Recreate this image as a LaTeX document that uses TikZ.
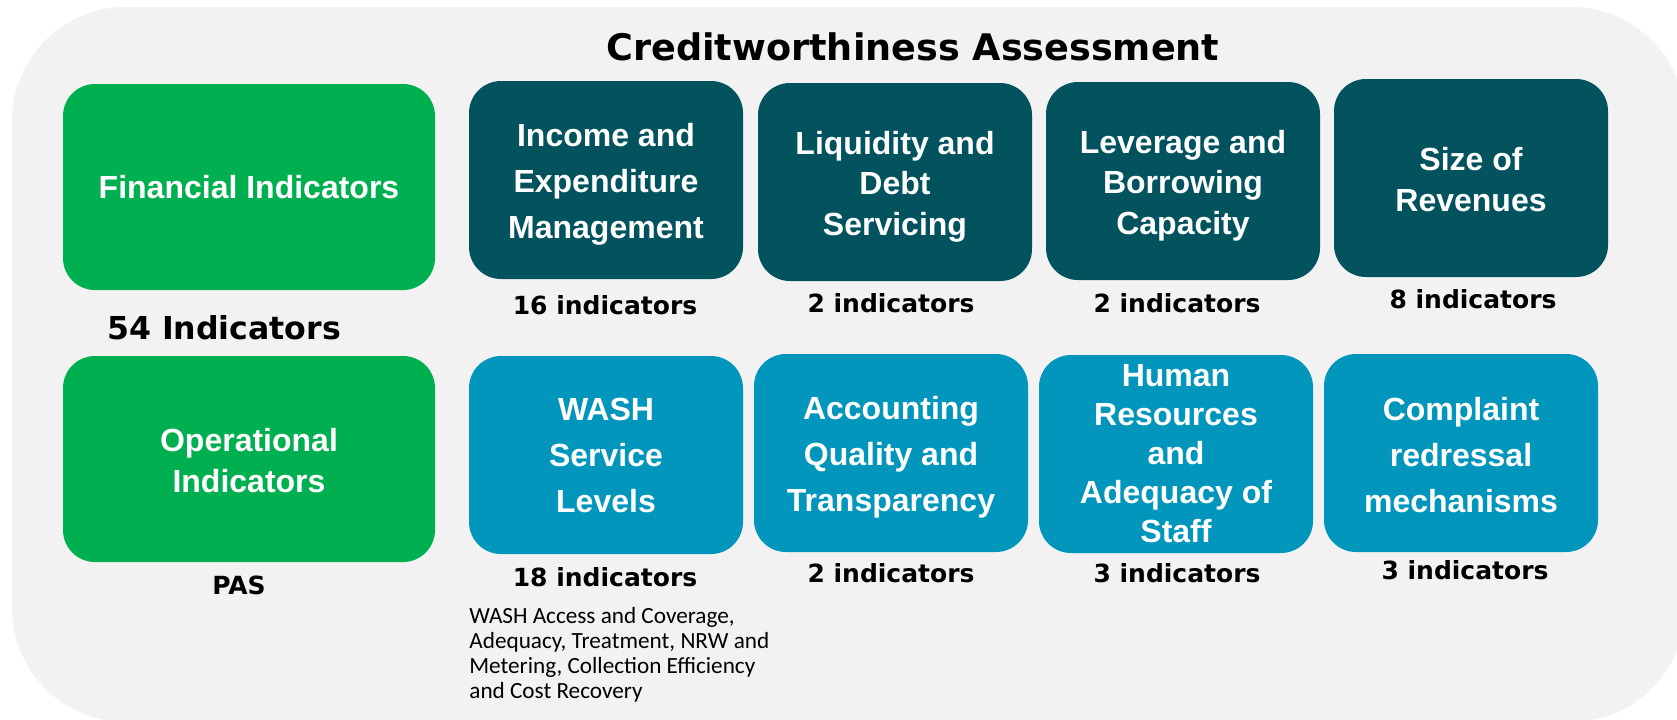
\documentclass[tikz,border=0pt]{standalone}
\usepackage{fontspec}
\setmainfont{Liberation Sans}
\newfontfamily\heavyfont{DejaVu Sans}
\newfontfamily\notefont{Carlito}
\usepackage{tikz}

\definecolor{bggray}{HTML}{F2F2F2}
\definecolor{opgreen}{HTML}{00B050}
\definecolor{finteal}{HTML}{03535F}
\definecolor{opblue}{HTML}{0296BC}

% extra room above the first line of a box text
\newcommand{\lift}[1]{\rule{0pt}{#1}}

\begin{document}
\begin{tikzpicture}[x=0.5pt,y=-0.5pt,
    box/.style={rounded corners=16pt, inner sep=0pt, align=center, text=white,
        font=\fontsize{16}{23}\selectfont\bfseries},
    tight/.style={font=\fontsize{16}{20.3}\selectfont\bfseries},
    tighter/.style={font=\fontsize{16}{19.5}\selectfont\bfseries},
    groupbox/.style={box, fill=opgreen, minimum width=186pt, minimum height=103pt},
    finbox/.style={box, fill=finteal, minimum width=137pt, minimum height=99pt},
    opbox/.style={box, fill=opblue, minimum width=137pt, minimum height=99pt},
    count/.style={font=\heavyfont\bfseries\fontsize{12.5}{15}\selectfont},
    note/.style={font=\notefont\fontsize{11.6}{12.5}\selectfont, align=left, inner sep=0pt}]

    \useasboundingbox (0,0) rectangle (1677,719);
    \fill[white] (0,0) rectangle (1677,719);
    \fill[bggray, rounded corners=57pt] (12,7) rectangle (1685,722);

    \node[font=\heavyfont\bfseries\fontsize{18.3}{22}\selectfont] (title) at (913,47) {Creditworthiness Assessment};

    % left column
    \node[groupbox] (fin) at (249,187) {Financial Indicators};
    \node[groupbox, tight] (op) at (249,459) {\lift{13pt}Operational\\Indicators};
    \node[font=\heavyfont\bfseries\fontsize{15.8}{19}\selectfont] (total) at (224,328) {54 Indicators};
    \node[count] (pas) at (239,585) {PAS};

    % financial row
    \node[finbox] (inc) at (606,180) {\lift{16pt}Income and\\Expenditure\\Management};
    \node[finbox, tight] (liq) at (895,182) {\lift{16pt}Liquidity and\\Debt\\Servicing};
    \node[finbox, tight] (lev) at (1183,181) {\lift{16pt}Leverage and\\Borrowing\\Capacity};
    \node[finbox, tight] (siz) at (1471,178) {\lift{13pt}Size of\\Revenues};

    \node[count] (incn) at (605,305) {16 indicators};
    \node[count] (liqn) at (891,303) {2 indicators};
    \node[count] (levn) at (1177,303) {2 indicators};
    \node[count] (sizn) at (1473,299) {8 indicators};

    % operational row
    \node[opbox] (wash) at (606,455) {WASH\\Service\\Levels};
    \node[opbox] (acc) at (891,453) {\lift{16pt}Accounting\\Quality and\\Transparency};
    \node[opbox, tighter] (hum) at (1176,454) {Human\\Resources\\and\\Adequacy of\\Staff};
    \node[opbox] (com) at (1461,453) {\lift{14pt}Complaint\\redressal\\mechanisms};

    \node[count] (washn) at (605,577) {18 indicators};
    \node[count] (accn) at (891,573) {2 indicators};
    \node[count] (humn) at (1177,573) {3 indicators};
    \node[count] (comn) at (1465,570) {3 indicators};

    \node[note, anchor=north west] (washnote) at (469,607)
        {WASH Access and Coverage,\\Adequacy, Treatment, NRW and\\Metering, Collection Efficiency\\and Cost Recovery};
\end{tikzpicture}
\end{document}
